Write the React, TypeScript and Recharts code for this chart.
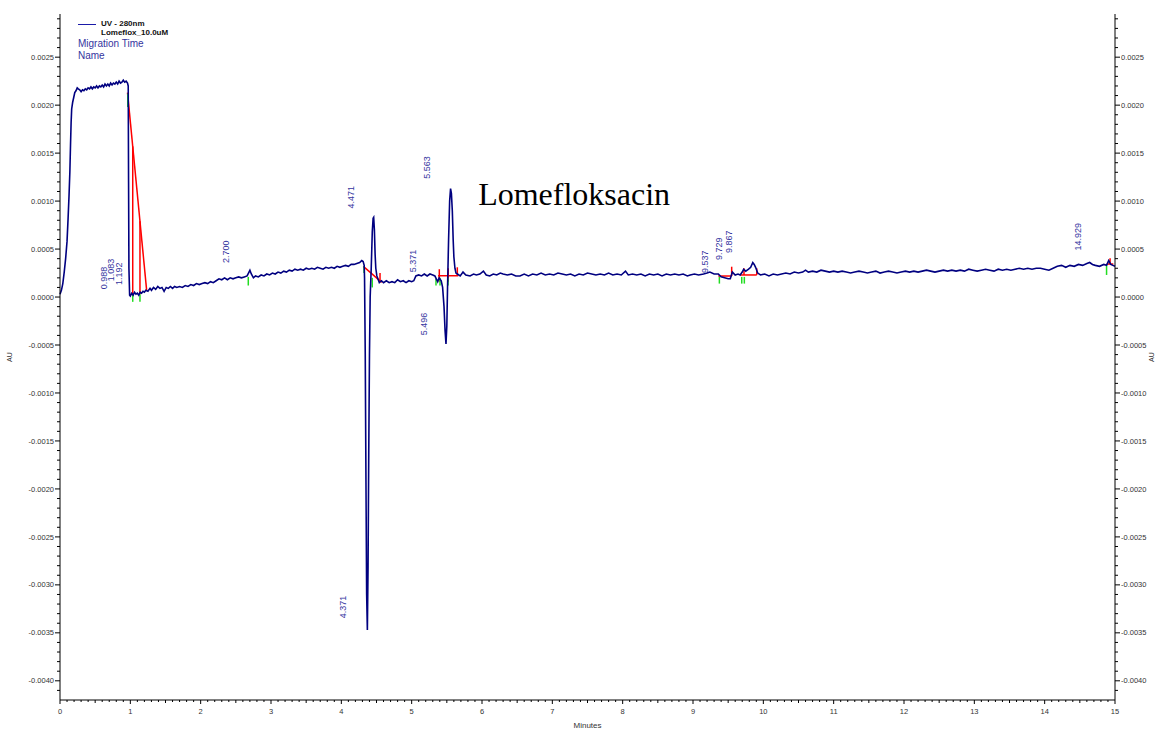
import {
  LineChart, Line, XAxis, YAxis, ReferenceLine, ReferenceDot,
} from "recharts";

// electropherogram: [minutes, AU]
const riseTrace: [number, number][] = [
  [0, 0.00003], [0.02, 0.00007], [0.04, 0.00014], [0.06, 0.00026], [0.08, 0.0004],
  [0.1, 0.00058], [0.115, 0.00082], [0.128, 0.00105], [0.14, 0.0013], [0.15, 0.0016],
  [0.158, 0.00182], [0.166, 0.00196], [0.18, 0.00203], [0.195, 0.00208], [0.21, 0.00213],
  [0.227, 0.00215], [0.245, 0.00218], [0.26, 0.00217],
];

const plateauTrace: [number, number][] = [
  [0.28, 0.00216], [0.3, 0.00214], [0.32, 0.00216], [0.34, 0.00215], [0.36, 0.00217],
  [0.38, 0.00216], [0.4, 0.00218], [0.42, 0.00217], [0.44, 0.00219], [0.46, 0.00217],
  [0.48, 0.00219], [0.5, 0.00218], [0.52, 0.0022], [0.54, 0.00218], [0.56, 0.0022],
  [0.58, 0.00219], [0.6, 0.00221], [0.62, 0.00219], [0.64, 0.00222], [0.66, 0.0022],
  [0.68, 0.00222], [0.7, 0.0022], [0.72, 0.00223], [0.74, 0.00221], [0.76, 0.00223],
  [0.78, 0.00222], [0.8, 0.00224], [0.82, 0.00222], [0.84, 0.00225], [0.86, 0.00223],
  [0.88, 0.00224], [0.9, 0.00226], [0.92, 0.00224], [0.94, 0.00225], [0.96, 0.00223],
  [0.97, 0.0022], [0.975, 0.0012], [0.98, 0.0003], [0.99, 0.00002],
];

const earlyBaseline: [number, number][] = [
  [1.0, 0.00001], [1.02, 0.00004], [1.04, 0.00002], [1.06, 0.00005], [1.08, 0.00003],
  [1.1, 0.00004], [1.12, 0.00002], [1.14, 0.00005], [1.16, 0.00004], [1.18, 0.00006],
  [1.2, 0.00005], [1.22, 0.00007], [1.25, 0.00006], [1.28, 0.00009], [1.3, 0.00007],
  [1.33, 0.0001], [1.36, 0.00008], [1.39, 0.00011], [1.42, 0.00009], [1.45, 0.0001],
  [1.48, 0.00006], [1.51, 0.0001], [1.54, 0.00009], [1.57, 0.00011], [1.6, 0.00009],
  [1.63, 0.00011], [1.66, 0.0001], [1.7, 0.00011], [1.74, 0.0001], [1.78, 0.00012],
  [1.82, 0.00011], [1.86, 0.00013], [1.9, 0.00012], [1.94, 0.00014], [1.98, 0.00013],
  [2.02, 0.00014], [2.06, 0.00015], [2.1, 0.00014], [2.14, 0.00016], [2.18, 0.00015],
  [2.22, 0.00017], [2.26, 0.00019], [2.3, 0.00018], [2.34, 0.0002], [2.38, 0.00018],
  [2.42, 0.0002], [2.46, 0.00019], [2.5, 0.0002], [2.54, 0.00021], [2.58, 0.0002],
  [2.62, 0.00021], [2.66, 0.00022], [2.68, 0.00025], [2.7, 0.00028], [2.72, 0.00024],
  [2.75, 0.0002], [2.78, 0.00022],
];

const midBaseline: [number, number][] = [
  [2.82, 0.00021], [2.86, 0.00023], [2.9, 0.00022], [2.94, 0.00024], [2.98, 0.00023],
  [3.02, 0.00025], [3.06, 0.00024], [3.1, 0.00026], [3.14, 0.00025], [3.18, 0.00027],
  [3.22, 0.00026], [3.26, 0.00028], [3.3, 0.00027], [3.34, 0.00029], [3.38, 0.00028],
  [3.42, 0.00029], [3.46, 0.00028], [3.5, 0.0003], [3.54, 0.00029], [3.58, 0.0003],
  [3.62, 0.00029], [3.66, 0.00031], [3.7, 0.0003], [3.74, 0.00029], [3.78, 0.00031],
  [3.82, 0.0003], [3.86, 0.00031], [3.9, 0.0003], [3.94, 0.00032], [3.98, 0.00031],
  [4.02, 0.00032], [4.06, 0.00033], [4.1, 0.00032], [4.14, 0.00034], [4.18, 0.00034],
  [4.22, 0.00035], [4.26, 0.00036], [4.29, 0.00038], [4.31, 0.00037],
];

const peakTrace: [number, number][] = [
  [4.325, 0.00033], [4.33, 0.0002], [4.34, -0.0006], [4.35, -0.0019], [4.36, -0.0031],
  [4.37, -0.00347], [4.38, -0.0028], [4.39, -0.0016], [4.4, -0.0006], [4.41, 0.0],
  [4.425, 0.0003], [4.44, 0.00068], [4.452, 0.00082], [4.46, 0.00083], [4.47, 0.0007],
  [4.48, 0.00045], [4.49, 0.0003], [4.505, 0.00022], [4.52, 0.00019], [4.54, 0.00015],
  [4.57, 0.00017], [4.6, 0.00015], [4.64, 0.00017], [4.68, 0.00015], [4.72, 0.00016],
  [4.76, 0.00015], [4.8, 0.00018], [4.84, 0.00016], [4.88, 0.00017], [4.92, 0.00015],
  [4.96, 0.00017], [5.0, 0.00016], [5.03, 0.00017], [5.06, 0.00022], [5.1, 0.00023],
  [5.14, 0.00022], [5.18, 0.00024], [5.22, 0.00022], [5.26, 0.00024], [5.3, 0.00023],
  [5.33, 0.00022], [5.35, 0.00019], [5.37, 0.00016], [5.39, 0.0002], [5.42, 0.00017],
  [5.44, 0.0001], [5.46, -0.0001], [5.475, -0.00035], [5.488, -0.00049], [5.5, -0.0003],
  [5.51, 0.0001], [5.525, 0.0006], [5.54, 0.001], [5.553, 0.00113], [5.565, 0.00108],
  [5.578, 0.0009], [5.59, 0.0006], [5.6, 0.00042], [5.615, 0.0003], [5.63, 0.00025],
];

const lateBaseline: [number, number][] = [
  [5.65, 0.00024], [5.69, 0.00022], [5.73, 0.00026], [5.77, 0.00023], [5.83, 0.00022],
  [5.88, 0.00024], [5.92, 0.00023], [5.97, 0.00024], [6.02, 0.00027], [6.06, 0.00023],
  [6.11, 0.00022], [6.16, 0.00024], [6.21, 0.00023], [6.26, 0.00025], [6.3, 0.00024],
  [6.36, 0.00023], [6.42, 0.00024], [6.48, 0.00022], [6.54, 0.00022], [6.6, 0.00024],
  [6.66, 0.00022], [6.72, 0.00024], [6.78, 0.00023], [6.84, 0.00025], [6.9, 0.00023],
  [6.96, 0.00024], [7.02, 0.00023], [7.08, 0.00025], [7.14, 0.00024], [7.2, 0.00023],
  [7.26, 0.00024], [7.32, 0.00022], [7.38, 0.00024], [7.44, 0.00023], [7.5, 0.00025],
  [7.56, 0.00024], [7.62, 0.00023], [7.68, 0.00024], [7.74, 0.00023], [7.8, 0.00025],
  [7.86, 0.00023], [7.92, 0.00024], [7.98, 0.00023], [8.04, 0.00027], [8.08, 0.00023],
  [8.14, 0.00024], [8.2, 0.00023], [8.26, 0.00024], [8.32, 0.00022], [8.38, 0.00024],
  [8.44, 0.00023], [8.5, 0.00024], [8.56, 0.00022], [8.62, 0.00024], [8.68, 0.00023],
  [8.74, 0.00024], [8.8, 0.00023], [8.86, 0.00024], [8.92, 0.00022], [8.96, 0.00023],
  [9.02, 0.00024], [9.08, 0.00023], [9.15, 0.00024], [9.2, 0.00025], [9.24, 0.00026],
  [9.3, 0.00024], [9.36, 0.00024], [9.4, 0.00021], [9.45, 0.0002], [9.5, 0.00019],
  [9.53, 0.00019], [9.56, 0.00026], [9.6, 0.00023], [9.64, 0.00024], [9.67, 0.00023],
  [9.7, 0.00026], [9.72, 0.00029], [9.75, 0.00027], [9.79, 0.00029], [9.82, 0.00031],
  [9.85, 0.00036], [9.87, 0.00034], [9.89, 0.00031], [9.92, 0.00025], [9.96, 0.00023],
  [10.02, 0.00024], [10.08, 0.00022], [10.14, 0.00024], [10.2, 0.00023], [10.26, 0.00024],
  [10.32, 0.00025], [10.38, 0.00024], [10.44, 0.00026], [10.5, 0.00025], [10.56, 0.00026],
  [10.6, 0.00028], [10.64, 0.00026], [10.7, 0.00027], [10.76, 0.00026], [10.82, 0.00028],
  [10.88, 0.00027], [10.94, 0.00026], [11.0, 0.00027], [11.06, 0.00026], [11.12, 0.00027],
  [11.18, 0.00026], [11.24, 0.00025], [11.3, 0.00026], [11.36, 0.00027], [11.42, 0.00026],
  [11.48, 0.00025], [11.54, 0.00026], [11.6, 0.00027], [11.66, 0.00025], [11.72, 0.00026],
  [11.78, 0.00027], [11.84, 0.00026], [11.9, 0.00025], [11.96, 0.00026], [12.02, 0.00027],
  [12.08, 0.00026], [12.14, 0.00027], [12.2, 0.00026], [12.26, 0.00027], [12.32, 0.00028],
  [12.38, 0.00027], [12.44, 0.00026], [12.5, 0.00027], [12.56, 0.00028], [12.62, 0.00027],
  [12.68, 0.00028], [12.74, 0.00027], [12.8, 0.00028], [12.86, 0.00027], [12.92, 0.00029],
  [12.98, 0.00028], [13.04, 0.00027], [13.1, 0.00028], [13.16, 0.00029], [13.22, 0.00028],
  [13.28, 0.00027], [13.34, 0.00029], [13.4, 0.00028], [13.46, 0.00029], [13.52, 0.00028],
  [13.58, 0.00029], [13.64, 0.0003], [13.7, 0.00029], [13.76, 0.0003], [13.82, 0.00029],
  [13.88, 0.0003], [13.94, 0.0003], [14.0, 0.00029], [14.06, 0.00028], [14.12, 0.0003],
  [14.18, 0.00032], [14.24, 0.00033], [14.3, 0.00031], [14.36, 0.00033], [14.42, 0.00032],
  [14.48, 0.00034], [14.54, 0.00033], [14.6, 0.00035], [14.64, 0.00036], [14.68, 0.00034],
  [14.72, 0.00033], [14.78, 0.00032], [14.84, 0.00034], [14.88, 0.00033], [14.91, 0.00038],
  [14.94, 0.00034], [14.97, 0.00033], [15.0, 0.00032],
];

// peak migration-time labels: text, minutes, AU (centre of the rotated text)
const peakLabels: [string, number, number][] = [
  ["0.988", 0.626, 0.000198],
  ["1.083", 0.718, 0.000282],
  ["1.192", 0.839, 0.000242],
  ["2.700", 2.36, 0.000472],
  ["4.471", 4.13, 0.001039],
  ["4.371", 4.014, -0.003231],
  ["5.371", 5.023, 0.000375],
  ["5.496", 5.166, -0.000281],
  ["5.563", 5.218, 0.00135],
  ["9.537", 9.171, 0.000368],
  ["9.729", 9.374, 0.000504],
  ["9.867", 9.512, 0.000577],
  ["14.929", 14.47, 0.000629],
];

// integration baselines / drop lines: t1, v1, t2, v2
const redMarks: [number, number, number, number][] = [
  [0.96, 0.00213, 1.232, 0.00007],
  [1.034, 0.00157, 1.034, 0.00001],
  [1.137, 0.00079, 1.137, 0.00003],
  [4.313, 0.00032, 4.574, 0.000153],
  [4.55, 0.00025, 4.55, 0.00017],
  [5.375, 0.000222, 5.663, 0.000222],
  [5.393, 0.00029, 5.393, 0.00016],
  [5.52, 0.0003, 5.52, 0.00016],
  [5.649, 0.00031, 5.649, 0.00022],
  [9.36, 0.000219, 9.55, 0.000219],
  [9.55, 0.000316, 9.55, 0.000219],
  [9.669, 0.00023, 9.906, 0.00023],
  [9.725, 0.0003, 9.725, 0.00023],
  [9.906, 0.0003, 9.906, 0.00023],
  [14.88, 0.000344, 14.976, 0.000344],
  [14.93, 0.000404, 14.93, 0.000344],
];

const greenMarks: [number, number, number, number][] = [
  [0.963, 0.00212, 0.963, 0.00198],
  [1.034, 0.00003, 1.034, -0.00005],
  [1.137, 0.00003, 1.137, -0.00005],
  [2.677, 0.00021, 2.677, 0.00012],
  [4.323, 0.00032, 4.323, 0.00025],
  [4.44, 0.0002, 4.44, 0.0001],
  [5.346, 0.00019, 5.346, 0.00012],
  [5.403, 0.0002, 5.403, 0.00012],
  [5.517, 0.0002, 5.517, 0.00012],
  [9.375, 0.00021, 9.375, 0.00014],
  [9.693, 0.00021, 9.693, 0.00014],
  [9.73, 0.00021, 9.73, 0.00014],
  [14.88, 0.00033, 14.88, 0.00023],
];

// axis ticks: minor every 0.1 min / 0.0001 AU, labels on the majors
const X_TICKS = Array.from({ length: 151 }, (_, i) => i / 10);
const Y_TICKS = Array.from({ length: 71 }, (_, i) => (i - 41) / 10000);
const Y_DOMAIN: [number, number] = [-0.0042, 0.00295];

const trace = [
  ...riseTrace, ...plateauTrace, ...earlyBaseline,
  ...midBaseline, ...peakTrace, ...lateBaseline,
].map(([t, au]) => ({ t, au }));

const SANS = "Liberation Sans, Arial, sans-serif";
const NAVY = "#000080";
const LABEL_BLUE = "#3434a0";

function YTick({ x, y, payload, side }: any) {
  const major = Math.round(payload.value * 10000) % 5 === 0;
  const dir = side === "left" ? -1 : 1;
  const len = major ? 5 : 3;
  return (
    <g>
      <line x1={x} y1={y} x2={x + dir * len} y2={y} stroke="#000" strokeWidth={1} />
      {major && (
        <text
          x={x + dir * (len + 1)} y={y} dy="0.35em"
          textAnchor={side === "left" ? "end" : "start"}
          fontSize={7.5} fontFamily={SANS} fill="#333"
        >
          {payload.value.toFixed(4)}
        </text>
      )}
    </g>
  );
}

function XTick({ x, y, payload }: any) {
  const tenths = Math.round(payload.value * 10);
  const major = tenths % 10 === 0;
  const half = tenths % 5 === 0;
  const len = major ? 4 : half ? 3 : 2;
  return (
    <g>
      <line x1={x} y1={y} x2={x} y2={y + len} stroke="#000" strokeWidth={1} />
      {major && (
        <text x={x} y={y + 11.5} dy="0.35em" textAnchor="middle" fontSize={7.5} fontFamily={SANS} fill="#333">
          {tenths / 10}
        </text>
      )}
    </g>
  );
}

function AuTitle({ viewBox, dx }: any) {
  const x = viewBox.x + dx;
  const y = viewBox.y + viewBox.height / 2;
  return (
    <text x={x} y={y} transform={`rotate(-90, ${x}, ${y})`} textAnchor="middle" dy="0.35em"
      fontSize={7} fontFamily={SANS} fill="#333">
      AU
    </text>
  );
}

function LegendBox() {
  const bold = { position: "absolute" as const, left: 101, fontSize: 8, fontWeight: 700, lineHeight: "9px", color: "#111", whiteSpace: "nowrap" as const };
  const blue = { position: "absolute" as const, left: 78, fontSize: 10, lineHeight: "12px", color: LABEL_BLUE, whiteSpace: "nowrap" as const };
  return (
    <div style={{ position: "absolute", left: 0, top: 0, fontFamily: SANS }}>
      <div style={{ position: "absolute", left: 78, top: 24, width: 18, height: 1, background: "#1a1aa8" }} />
      <div style={{ ...bold, top: 18.5 }}>UV - 280nm</div>
      <div style={{ ...bold, top: 27.5 }}>Lomeflox_10.0uM</div>
      <div style={{ ...blue, top: 38.3 }}>Migration Time</div>
      <div style={{ ...blue, top: 49.7 }}>Name</div>
    </div>
  );
}

export default function App() {
  return (
    <div style={{ position: "absolute", left: 0, top: 0, width: 1157, height: 731, background: "#fff" }}>
      <LineChart width={1157} height={731} data={trace} margin={{ top: 14, right: 0, bottom: 0, left: 0 }}>
        <XAxis
          dataKey="t" type="number" domain={[0, 15]} ticks={X_TICKS} interval={0}
          height={31} tickSize={0} tickMargin={0} tickLine={false}
          axisLine={{ stroke: "#000" }} tick={(p: any) => <XTick {...p} />}
          label={{ value: "Minutes", position: "insideBottom", offset: 3, fontSize: 8, fontFamily: SANS, fill: "#333" }}
        />
        <XAxis
          xAxisId="top" orientation="top" type="number" domain={[0, 15]}
          height={0} tick={false} tickLine={false} axisLine={{ stroke: "#000" }}
        />
        <YAxis
          yAxisId="left" orientation="left" type="number" domain={Y_DOMAIN} allowDataOverflow
          ticks={Y_TICKS} interval={0} width={60} tickSize={0} tickMargin={0} tickLine={false}
          axisLine={{ stroke: "#000" }} tick={(p: any) => <YTick {...p} side="left" />}
          label={{ content: (p: any) => <AuTitle viewBox={p.viewBox} dx={10} /> }}
        />
        <YAxis
          yAxisId="right" orientation="right" type="number" domain={Y_DOMAIN} allowDataOverflow
          ticks={Y_TICKS} interval={0} width={42} tickSize={0} tickMargin={0} tickLine={false}
          axisLine={{ stroke: "#000" }} tick={(p: any) => <YTick {...p} side="right" />}
          label={{ content: (p: any) => <AuTitle viewBox={p.viewBox} dx={37} /> }}
        />

        {redMarks.map(([t1, v1, t2, v2], i) => (
          <ReferenceLine key={`r${i}`} yAxisId="left" segment={[{ x: t1, y: v1 }, { x: t2, y: v2 }]}
            stroke="#ff0000" strokeWidth={1.5} />
        ))}
        {greenMarks.map(([t1, v1, t2, v2], i) => (
          <ReferenceLine key={`g${i}`} yAxisId="left" segment={[{ x: t1, y: v1 }, { x: t2, y: v2 }]}
            stroke="#22dd22" strokeWidth={1.5} />
        ))}

        <Line
          yAxisId="left" type="linear" dataKey="au" stroke={NAVY} strokeWidth={1.6}
          dot={false} activeDot={false} isAnimationActive={false}
        />

        {peakLabels.map(([text, t, v]) => (
          <ReferenceDot key={text} yAxisId="left" x={t} y={v} r={0} fill="none" stroke="none"
            label={{ value: text, angle: -90, position: "center", fontSize: 9, fontFamily: SANS, fill: LABEL_BLUE }} />
        ))}
        <ReferenceDot yAxisId="left" x={7.31} y={0.001078} r={0} fill="none" stroke="none"
          label={{ value: "Lomefloksacin", position: "center", fontSize: 32, fontFamily: "Liberation Serif, Times New Roman, serif", fill: "#000" }} />
      </LineChart>
      <LegendBox />
    </div>
  );
}
